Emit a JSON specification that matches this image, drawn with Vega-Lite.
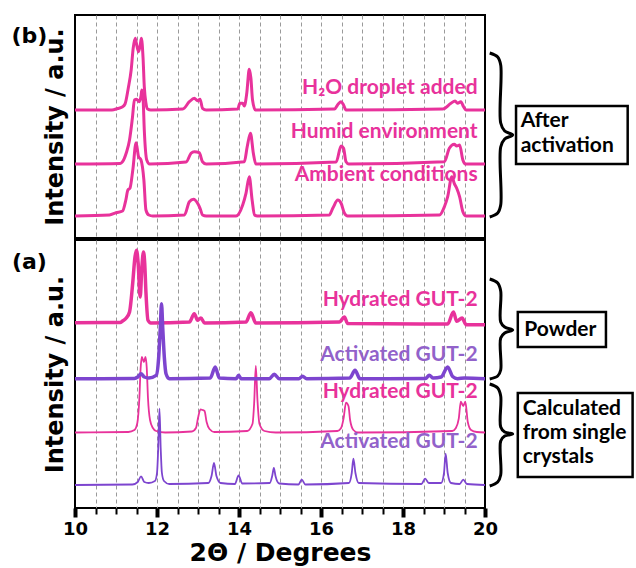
{
  "$schema": "https://vega.github.io/schema/vega-lite/v6.json",
  "padding": {"left": 10, "top": 14, "right": 0, "bottom": 0},
  "background": "white",
  "config": {
    "view": {"stroke": "black", "strokeWidth": 2},
    "axis": {"gridDash": [4, 3], "gridColor": "#9a9a9a", "gridWidth": 1}
  },
  "datasets": {
    "top": [
      {"s":"h2o","x":10,"y":128},{"s":"h2o","x":10.9,"y":128},{"s":"h2o","x":11.04,"y":129.5},{"s":"h2o","x":11.15,"y":131},{"s":"h2o","x":11.22,"y":134},{"s":"h2o","x":11.3,"y":150},{"s":"h2o","x":11.37,"y":168},{"s":"h2o","x":11.42,"y":190},{"s":"h2o","x":11.47,"y":199.7},{"s":"h2o","x":11.51,"y":192},{"s":"h2o","x":11.55,"y":186.3},{"s":"h2o","x":11.59,"y":193},{"s":"h2o","x":11.62,"y":199.7},{"s":"h2o","x":11.66,"y":180},{"s":"h2o","x":11.69,"y":151.3},{"s":"h2o","x":11.73,"y":135},{"s":"h2o","x":11.77,"y":129},{"s":"h2o","x":11.85,"y":128},{"s":"h2o","x":12.63,"y":129},{"s":"h2o","x":12.79,"y":136.3},{"s":"h2o","x":12.91,"y":139.7},{"s":"h2o","x":12.99,"y":137.3},{"s":"h2o","x":13.05,"y":138.7},{"s":"h2o","x":13.11,"y":129.7},{"s":"h2o","x":13.2,"y":128},{"s":"h2o","x":13.97,"y":129},{"s":"h2o","x":14.02,"y":134.7},{"s":"h2o","x":14.09,"y":134.7},{"s":"h2o","x":14.13,"y":132},{"s":"h2o","x":14.19,"y":145},{"s":"h2o","x":14.25,"y":168.7},{"s":"h2o","x":14.29,"y":160},{"s":"h2o","x":14.33,"y":138},{"s":"h2o","x":14.4,"y":128},{"s":"h2o","x":16.33,"y":129},{"s":"h2o","x":16.42,"y":134},{"s":"h2o","x":16.49,"y":136.3},{"s":"h2o","x":16.55,"y":133},{"s":"h2o","x":16.61,"y":128},{"s":"h2o","x":18.97,"y":129},{"s":"h2o","x":19.17,"y":134.7},{"s":"h2o","x":19.27,"y":137},{"s":"h2o","x":19.33,"y":134.7},{"s":"h2o","x":19.41,"y":136.3},{"s":"h2o","x":19.48,"y":131},{"s":"h2o","x":19.54,"y":128},{"s":"h2o","x":20,"y":128},
      {"s":"humid","x":10,"y":74},{"s":"humid","x":11.1,"y":74.5},{"s":"humid","x":11.16,"y":76.3},{"s":"humid","x":11.25,"y":85},{"s":"humid","x":11.33,"y":98},{"s":"humid","x":11.4,"y":120},{"s":"humid","x":11.45,"y":138},{"s":"humid","x":11.5,"y":138.7},{"s":"humid","x":11.57,"y":136.3},{"s":"humid","x":11.61,"y":142},{"s":"humid","x":11.63,"y":148},{"s":"humid","x":11.66,"y":140},{"s":"humid","x":11.69,"y":108},{"s":"humid","x":11.75,"y":78},{"s":"humid","x":11.82,"y":74},{"s":"humid","x":12.71,"y":76},{"s":"humid","x":12.83,"y":84.7},{"s":"humid","x":12.91,"y":86.3},{"s":"humid","x":13.03,"y":85.3},{"s":"humid","x":13.11,"y":76.3},{"s":"humid","x":13.2,"y":74},{"s":"humid","x":14.13,"y":76.3},{"s":"humid","x":14.2,"y":91.3},{"s":"humid","x":14.28,"y":104.7},{"s":"humid","x":14.35,"y":84.7},{"s":"humid","x":14.41,"y":74},{"s":"humid","x":16.37,"y":76},{"s":"humid","x":16.49,"y":92},{"s":"humid","x":16.55,"y":89.7},{"s":"humid","x":16.61,"y":76.3},{"s":"humid","x":16.68,"y":74},{"s":"humid","x":19.01,"y":76.3},{"s":"humid","x":19.13,"y":89.7},{"s":"humid","x":19.25,"y":93.7},{"s":"humid","x":19.31,"y":92},{"s":"humid","x":19.38,"y":93},{"s":"humid","x":19.46,"y":78},{"s":"humid","x":19.52,"y":74},{"s":"humid","x":20,"y":74},
      {"s":"amb","x":10,"y":22},{"s":"amb","x":10.84,"y":23},{"s":"amb","x":11.0,"y":25.3},{"s":"amb","x":11.16,"y":27},{"s":"amb","x":11.24,"y":38},{"s":"amb","x":11.29,"y":48},{"s":"amb","x":11.34,"y":49.7},{"s":"amb","x":11.41,"y":68},{"s":"amb","x":11.49,"y":95.3},{"s":"amb","x":11.55,"y":81.3},{"s":"amb","x":11.61,"y":78},{"s":"amb","x":11.68,"y":58},{"s":"amb","x":11.73,"y":28},{"s":"amb","x":11.8,"y":23},{"s":"amb","x":11.9,"y":22},{"s":"amb","x":12.67,"y":23},{"s":"amb","x":12.79,"y":36.3},{"s":"amb","x":12.89,"y":38.7},{"s":"amb","x":12.99,"y":34.7},{"s":"amb","x":13.05,"y":29.7},{"s":"amb","x":13.11,"y":23},{"s":"amb","x":13.2,"y":22},{"s":"amb","x":13.93,"y":22},{"s":"amb","x":14.09,"y":33},{"s":"amb","x":14.17,"y":44.7},{"s":"amb","x":14.25,"y":61.3},{"s":"amb","x":14.32,"y":38},{"s":"amb","x":14.38,"y":23},{"s":"amb","x":14.45,"y":22},{"s":"amb","x":16.2,"y":23},{"s":"amb","x":16.29,"y":30},{"s":"amb","x":16.41,"y":38},{"s":"amb","x":16.49,"y":34.7},{"s":"amb","x":16.57,"y":25},{"s":"amb","x":16.65,"y":22},{"s":"amb","x":18.89,"y":23},{"s":"amb","x":19.01,"y":31.3},{"s":"amb","x":19.09,"y":41.3},{"s":"amb","x":19.19,"y":61.3},{"s":"amb","x":19.25,"y":54.7},{"s":"amb","x":19.31,"y":49.7},{"s":"amb","x":19.38,"y":41.3},{"s":"amb","x":19.46,"y":26.3},{"s":"amb","x":19.54,"y":22},{"s":"amb","x":20,"y":22}
    ],
    "powder": [
      {"s":"hp","x":10,"y":185.3},{"s":"hp","x":11.1,"y":185.5},{"s":"hp","x":11.16,"y":187},{"s":"hp","x":11.25,"y":190},{"s":"hp","x":11.33,"y":196},{"s":"hp","x":11.41,"y":226},{"s":"hp","x":11.46,"y":250},{"s":"hp","x":11.5,"y":257.7},{"s":"hp","x":11.54,"y":245},{"s":"hp","x":11.59,"y":211},{"s":"hp","x":11.63,"y":240},{"s":"hp","x":11.67,"y":256},{"s":"hp","x":11.7,"y":245},{"s":"hp","x":11.73,"y":216},{"s":"hp","x":11.78,"y":187.7},{"s":"hp","x":11.85,"y":185},{"s":"hp","x":12.79,"y":186},{"s":"hp","x":12.91,"y":194.3},{"s":"hp","x":12.99,"y":187.7},{"s":"hp","x":13.07,"y":190},{"s":"hp","x":13.16,"y":185},{"s":"hp","x":14.17,"y":186},{"s":"hp","x":14.29,"y":195.3},{"s":"hp","x":14.41,"y":185},{"s":"hp","x":16.45,"y":186},{"s":"hp","x":16.57,"y":191},{"s":"hp","x":16.65,"y":184.5},{"s":"hp","x":19.09,"y":184},{"s":"hp","x":19.23,"y":196},{"s":"hp","x":19.31,"y":186.7},{"s":"hp","x":19.44,"y":190},{"s":"hp","x":19.54,"y":183.3},{"s":"hp","x":20,"y":183.3},
      {"s":"ap","x":10,"y":129.3},{"s":"ap","x":11.45,"y":129.5},{"s":"ap","x":11.53,"y":131},{"s":"ap","x":11.61,"y":134.3},{"s":"ap","x":11.69,"y":131},{"s":"ap","x":11.8,"y":130},{"s":"ap","x":11.98,"y":132.7},{"s":"ap","x":12.04,"y":150},{"s":"ap","x":12.08,"y":180},{"s":"ap","x":12.11,"y":204.3},{"s":"ap","x":12.14,"y":180},{"s":"ap","x":12.18,"y":150},{"s":"ap","x":12.22,"y":134.3},{"s":"ap","x":12.3,"y":129.3},{"s":"ap","x":13.3,"y":130},{"s":"ap","x":13.42,"y":141},{"s":"ap","x":13.52,"y":130},{"s":"ap","x":13.93,"y":129.3},{"s":"ap","x":13.99,"y":132.7},{"s":"ap","x":14.05,"y":129.3},{"s":"ap","x":14.74,"y":129.3},{"s":"ap","x":14.86,"y":133.7},{"s":"ap","x":14.98,"y":129.3},{"s":"ap","x":15.46,"y":129.3},{"s":"ap","x":15.55,"y":131.7},{"s":"ap","x":15.65,"y":129.3},{"s":"ap","x":16.7,"y":130},{"s":"ap","x":16.83,"y":137.7},{"s":"ap","x":16.95,"y":129.3},{"s":"ap","x":18.55,"y":129.5},{"s":"ap","x":18.64,"y":132.7},{"s":"ap","x":18.74,"y":130},{"s":"ap","x":18.93,"y":131},{"s":"ap","x":19.09,"y":141},{"s":"ap","x":19.21,"y":131.5},{"s":"ap","x":19.33,"y":129.3},{"s":"ap","x":19.5,"y":130},{"s":"ap","x":20,"y":129.3}
    ],
    "calc": [
      {"s":"hc","x":10,"y":75.5},{"s":"hc","x":11.3,"y":76},{"s":"hc","x":11.45,"y":78},{"s":"hc","x":11.52,"y":85},{"s":"hc","x":11.57,"y":110},{"s":"hc","x":11.6,"y":139.3},{"s":"hc","x":11.63,"y":151},{"s":"hc","x":11.68,"y":146},{"s":"hc","x":11.72,"y":151},{"s":"hc","x":11.75,"y":140},{"s":"hc","x":11.78,"y":110},{"s":"hc","x":11.83,"y":88},{"s":"hc","x":11.9,"y":80},{"s":"hc","x":11.98,"y":77},{"s":"hc","x":12.2,"y":75.5},{"s":"hc","x":12.85,"y":76.5},{"s":"hc","x":12.95,"y":80},{"s":"hc","x":13.0,"y":90},{"s":"hc","x":13.06,"y":98.7},{"s":"hc","x":13.11,"y":98},{"s":"hc","x":13.16,"y":97},{"s":"hc","x":13.21,"y":86},{"s":"hc","x":13.28,"y":79},{"s":"hc","x":13.4,"y":76},{"s":"hc","x":14.2,"y":77},{"s":"hc","x":14.33,"y":84.3},{"s":"hc","x":14.37,"y":105},{"s":"hc","x":14.41,"y":142},{"s":"hc","x":14.45,"y":108},{"s":"hc","x":14.5,"y":84},{"s":"hc","x":14.62,"y":77},{"s":"hc","x":14.9,"y":75.5},{"s":"hc","x":16.4,"y":77},{"s":"hc","x":16.49,"y":80},{"s":"hc","x":16.55,"y":89.3},{"s":"hc","x":16.61,"y":105.3},{"s":"hc","x":16.67,"y":102},{"s":"hc","x":16.71,"y":88},{"s":"hc","x":16.79,"y":78},{"s":"hc","x":16.9,"y":75.5},{"s":"hc","x":19.2,"y":77},{"s":"hc","x":19.29,"y":80},{"s":"hc","x":19.36,"y":89.3},{"s":"hc","x":19.41,"y":106.3},{"s":"hc","x":19.47,"y":102},{"s":"hc","x":19.52,"y":106.3},{"s":"hc","x":19.58,"y":86},{"s":"hc","x":19.66,"y":78},{"s":"hc","x":19.8,"y":76},{"s":"hc","x":20,"y":75.5},
      {"s":"ac","x":10,"y":23},{"s":"ac","x":11.4,"y":23.5},{"s":"ac","x":11.53,"y":26},{"s":"ac","x":11.61,"y":31.7},{"s":"ac","x":11.69,"y":26},{"s":"ac","x":11.8,"y":25},{"s":"ac","x":11.95,"y":27},{"s":"ac","x":12.0,"y":35},{"s":"ac","x":12.03,"y":60},{"s":"ac","x":12.06,"y":99.3},{"s":"ac","x":12.09,"y":60},{"s":"ac","x":12.12,"y":35},{"s":"ac","x":12.17,"y":27},{"s":"ac","x":12.3,"y":24},{"s":"ac","x":13.25,"y":25},{"s":"ac","x":13.33,"y":32},{"s":"ac","x":13.39,"y":45},{"s":"ac","x":13.45,"y":32},{"s":"ac","x":13.55,"y":25},{"s":"ac","x":13.9,"y":24},{"s":"ac","x":13.99,"y":32.7},{"s":"ac","x":14.08,"y":24.5},{"s":"ac","x":14.75,"y":25},{"s":"ac","x":14.81,"y":32},{"s":"ac","x":14.85,"y":40},{"s":"ac","x":14.89,"y":32},{"s":"ac","x":14.98,"y":24.5},{"s":"ac","x":15.45,"y":23.5},{"s":"ac","x":15.53,"y":28.3},{"s":"ac","x":15.62,"y":23.5},{"s":"ac","x":16.68,"y":25},{"s":"ac","x":16.75,"y":35},{"s":"ac","x":16.79,"y":49.3},{"s":"ac","x":16.84,"y":35},{"s":"ac","x":16.92,"y":25},{"s":"ac","x":18.45,"y":24},{"s":"ac","x":18.54,"y":29.3},{"s":"ac","x":18.63,"y":25},{"s":"ac","x":18.93,"y":25},{"s":"ac","x":19.0,"y":35},{"s":"ac","x":19.04,"y":54.3},{"s":"ac","x":19.09,"y":35},{"s":"ac","x":19.17,"y":25},{"s":"ac","x":19.38,"y":24},{"s":"ac","x":19.47,"y":28.3},{"s":"ac","x":19.56,"y":24},{"s":"ac","x":20,"y":23}
    ],
    "braceTop": [
      {"g":"a","i":0,"x":20.115,"y":185},{"g":"a","i":1,"x":20.31,"y":181},{"g":"a","i":2,"x":20.383,"y":173},{"g":"a","i":3,"x":20.383,"y":115},{"g":"a","i":4,"x":20.48,"y":107},{"g":"a","i":5,"x":20.675,"y":103},{"g":"a","i":6,"x":20.48,"y":99},{"g":"a","i":7,"x":20.383,"y":91},{"g":"a","i":8,"x":20.383,"y":33},{"g":"a","i":9,"x":20.31,"y":25},{"g":"a","i":10,"x":20.115,"y":21}
    ],
    "braceBottom": [
      {"g":"p","i":0,"x":20.115,"y":229},{"g":"p","i":1,"x":20.31,"y":225},{"g":"p","i":2,"x":20.383,"y":217},{"g":"p","i":3,"x":20.383,"y":186},{"g":"p","i":4,"x":20.48,"y":181},{"g":"p","i":5,"x":20.675,"y":178},{"g":"p","i":6,"x":20.48,"y":175},{"g":"p","i":7,"x":20.383,"y":170},{"g":"p","i":8,"x":20.383,"y":138},{"g":"p","i":9,"x":20.31,"y":132},{"g":"p","i":10,"x":20.115,"y":129},
      {"g":"c","i":0,"x":20.115,"y":124},{"g":"c","i":1,"x":20.31,"y":120},{"g":"c","i":2,"x":20.383,"y":112},{"g":"c","i":3,"x":20.383,"y":81},{"g":"c","i":4,"x":20.48,"y":76},{"g":"c","i":5,"x":20.675,"y":74},{"g":"c","i":6,"x":20.48,"y":72},{"g":"c","i":7,"x":20.383,"y":67},{"g":"c","i":8,"x":20.383,"y":33},{"g":"c","i":9,"x":20.31,"y":26},{"g":"c","i":10,"x":20.115,"y":22}
    ],
    "boxTop": [{"x":20.757,"x2":23.48,"y":132,"y2":74}],
    "boxTopText": [{"x":20.87,"y":116.8,"t":"After"},{"x":20.87,"y":92.5,"t":"activation"}],
    "boxBottom": [{"x":20.8,"x2":22.95,"y":196,"y2":161},{"x":20.8,"x2":23.6,"y":115,"y2":31}],
    "boxBottomText": [{"x":20.96,"y":178.5,"t":"Powder"},{"x":20.92,"y":99.5,"t":"Calculated"},{"x":20.92,"y":75.5,"t":"from single"},{"x":20.92,"y":51.5,"t":"crystals"}],
    "labTop": [{"x":19.82,"y":150,"t":"H₂O droplet added"},{"x":19.82,"y":106.3,"t":"Humid environment"},{"x":19.82,"y":63,"t":"Ambient conditions"}],
    "labPink": [{"x":19.82,"y":207.7,"t":"Hydrated GUT-2"},{"x":19.82,"y":116,"t":"Hydrated GUT-2"}],
    "labPurple": [{"x":19.82,"y":152.7,"t":"Activated GUT-2"},{"x":19.82,"y":66,"t":"Activated GUT-2"}],
    "letterTop": [{"x":8.888,"y":202,"t":"(b)"}],
    "letterBottom": [{"x":8.888,"y":246,"t":"(a)"}]
  },
  "spacing": 0,
  "vconcat": [
    {
      "width": 410,
      "height": 223,
      "encoding": {
        "x": {"field": "x", "type": "quantitative", "scale": {"domain": [10, 20], "nice": false, "zero": false},
          "axis": {"values": [10,10.5,11,11.5,12,12.5,13,13.5,14,14.5,15,15.5,16,16.5,17,17.5,18,18.5,19,19.5,20], "labels": false, "ticks": false, "domain": false, "title": null, "grid": true,
            "gridOpacity": {"condition": {"test": "datum.value == 10 || datum.value == 20", "value": 0}, "value": 1}}},
        "y": {"field": "y", "type": "quantitative", "scale": {"domain": [0, 223], "nice": false, "zero": false},
          "axis": {"title": "Intensity / a.u.", "labels": false, "ticks": false, "domain": false, "grid": false, "titleFont": "DejaVu Sans", "titleFontSize": 24, "titleFontWeight": "bold", "titleColor": "black", "titlePadding": 8}}
      },
      "layer": [
        {"data": {"name": "top"}, "mark": {"type": "line", "interpolate": "monotone", "strokeWidth": 3, "color": "#E8329B"},
          "encoding": {"detail": {"field": "s"}}},
        {"data": {"name": "labTop"}, "mark": {"type": "text", "align": "right", "baseline": "middle", "font": "Lato", "fontWeight": "bold", "fontSize": 21, "color": "#E8329B"},
          "encoding": {"text": {"field": "t"}}},
        {"data": {"name": "braceTop"}, "mark": {"type": "line", "interpolate": "catmull-rom", "strokeWidth": 3, "color": "black"},
          "encoding": {"detail": {"field": "g"}, "order": {"field": "i"}}},
        {"data": {"name": "boxTop"}, "mark": {"type": "rect", "fill": "white", "stroke": "black", "strokeWidth": 2.5},
          "encoding": {"x2": {"field": "x2"}, "y2": {"field": "y2"}}},
        {"data": {"name": "boxTopText"}, "mark": {"type": "text", "align": "left", "baseline": "middle", "font": "Lato", "fontWeight": "bold", "fontSize": 21, "color": "black"},
          "encoding": {"text": {"field": "t"}}},
        {"data": {"name": "letterTop"}, "mark": {"type": "text", "align": "center", "baseline": "middle", "font": "DejaVu Sans", "fontWeight": "bold", "fontSize": 22, "color": "black"},
          "encoding": {"text": {"field": "t"}}}
      ]
    },
    {
      "width": 410,
      "height": 268,
      "encoding": {
        "x": {"field": "x", "type": "quantitative", "scale": {"domain": [10, 20], "nice": false, "zero": false},
          "axis": {"values": [10,10.5,11,11.5,12,12.5,13,13.5,14,14.5,15,15.5,16,16.5,17,17.5,18,18.5,19,19.5,20],
            "title": "2Θ / Degrees", "titleFont": "DejaVu Sans", "titleFontSize": 25, "titleFontWeight": "bold", "titleColor": "black", "titlePadding": 2,
            "labelExpr": "datum.value % 2 == 0 ? format(datum.value, 'd') : ''", "labelFont": "DejaVu Sans", "labelFontSize": 18, "labelFontWeight": "bold", "labelColor": "black", "labelPadding": 3, "labelFlush": false, "labelOverlap": false,
            "domain": false, "ticks": true, "tickColor": "black",
            "tickSize": {"condition": {"test": "datum.value % 2 == 0", "value": 9}, "value": 6},
            "tickWidth": {"condition": {"test": "datum.value % 2 == 0", "value": 4}, "value": 2},
            "grid": true,
            "gridOpacity": {"condition": {"test": "datum.value == 10 || datum.value == 20", "value": 0}, "value": 1}}},
        "y": {"field": "y", "type": "quantitative", "scale": {"domain": [0, 268], "nice": false, "zero": false},
          "axis": {"title": "Intensity / a.u.", "labels": false, "ticks": false, "domain": false, "grid": false, "titleFont": "DejaVu Sans", "titleFontSize": 24, "titleFontWeight": "bold", "titleColor": "black", "titlePadding": 8}}
      },
      "layer": [
        {"data": {"name": "calc"}, "mark": {"type": "line", "interpolate": "monotone", "strokeWidth": 1.8},
          "encoding": {"color": {"field": "s", "type": "nominal", "scale": {"domain": ["hp", "ap", "hc", "ac"], "range": ["#E8329B", "#7D45CF", "#E8329B", "#7D45CF"]}, "legend": null}}},
        {"data": {"name": "powder"}, "mark": {"type": "line", "interpolate": "monotone", "strokeWidth": 3.5},
          "encoding": {"color": {"field": "s", "type": "nominal", "scale": {"domain": ["hp", "ap", "hc", "ac"], "range": ["#E8329B", "#7D45CF", "#E8329B", "#7D45CF"]}, "legend": null}}},
        {"data": {"name": "labPink"}, "mark": {"type": "text", "align": "right", "baseline": "middle", "font": "Lato", "fontWeight": "bold", "fontSize": 21, "color": "#E8329B"},
          "encoding": {"text": {"field": "t"}}},
        {"data": {"name": "labPurple"}, "mark": {"type": "text", "align": "right", "baseline": "middle", "font": "Lato", "fontWeight": "bold", "fontSize": 21, "color": "#9262CA"},
          "encoding": {"text": {"field": "t"}}},
        {"data": {"name": "braceBottom"}, "mark": {"type": "line", "interpolate": "catmull-rom", "strokeWidth": 3, "color": "black"},
          "encoding": {"detail": {"field": "g"}, "order": {"field": "i"}}},
        {"data": {"name": "boxBottom"}, "mark": {"type": "rect", "fill": "white", "stroke": "black", "strokeWidth": 2.5},
          "encoding": {"x2": {"field": "x2"}, "y2": {"field": "y2"}}},
        {"data": {"name": "boxBottomText"}, "mark": {"type": "text", "align": "left", "baseline": "middle", "font": "Lato", "fontWeight": "bold", "fontSize": 21, "color": "black"},
          "encoding": {"text": {"field": "t"}}},
        {"data": {"name": "letterBottom"}, "mark": {"type": "text", "align": "center", "baseline": "middle", "font": "DejaVu Sans", "fontWeight": "bold", "fontSize": 22, "color": "black"},
          "encoding": {"text": {"field": "t"}}}
      ]
    }
  ]
}
